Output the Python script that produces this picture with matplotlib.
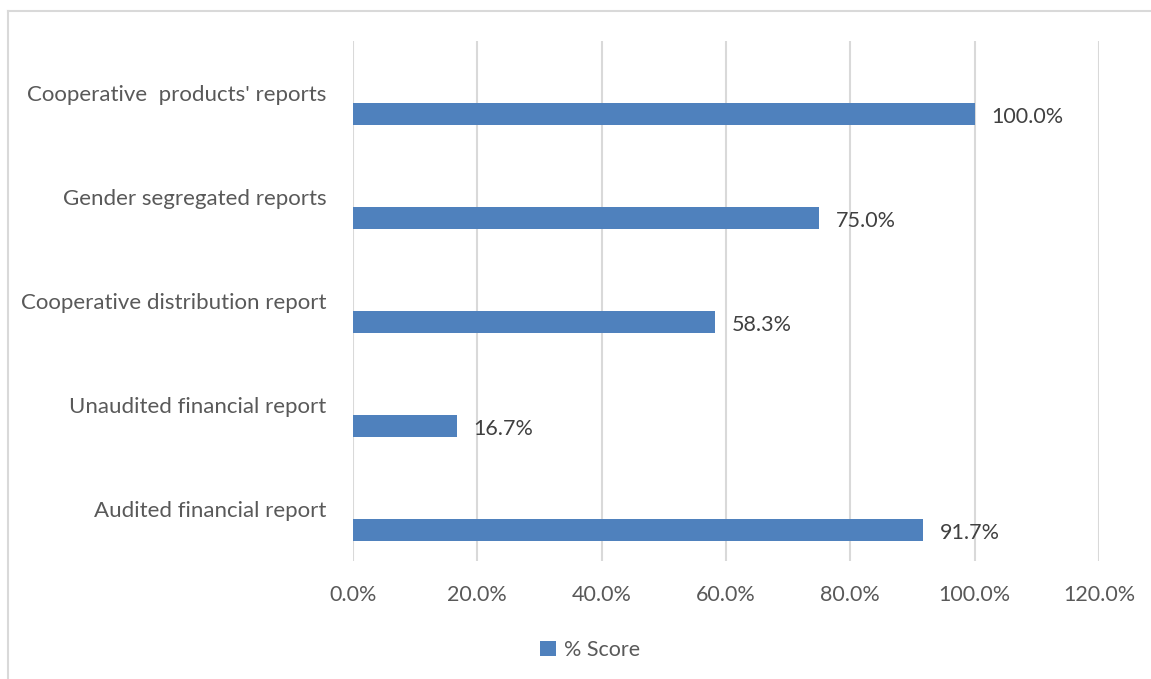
import matplotlib.pyplot as plt
from matplotlib.lines import Line2D
from matplotlib.ticker import FuncFormatter, MultipleLocator

categories = ["Audited financial report", "Unaudited financial report",
              "Cooperative distribution report", "Gender segregated reports",
              "Cooperative  products' reports"]
scores = [0.917, 0.167, 0.583, 0.75, 1.0]
series_name = "% Score"

W, H = 1151, 679
fig = plt.figure(figsize=(W / 100, H / 100), dpi=100)
plt.rcParams['font.family'] = ['Lato', 'DejaVu Sans']

# plot area in pixel terms
left, right, top, bottom = 353, 1099, 41, 561
ax = fig.add_axes([left / W, 1 - bottom / H, (right - left) / W, (bottom - top) / H])

bar_color = "#4F81BD"
txt = "#595959"
fs = 15.5

ypos = list(range(len(categories)))
# bar sits in the lower half of each category band
bars = ax.barh([y - 0.2 for y in ypos], scores, height=0.21, color=bar_color)

for y, v in zip(ypos, scores):
    ax.annotate(f"{v * 100:.1f}%", (v, y - 0.2), xytext=(12, -2.5), textcoords="offset points",
                va="center", ha="left", fontsize=fs, color="#404040")

ax.set_xlim(0, 1.2)
ax.set_ylim(-0.5, len(categories) - 0.5)
ax.xaxis.set_major_locator(MultipleLocator(0.2))
ax.xaxis.set_major_formatter(FuncFormatter(lambda v, p: f"{v * 100:.1f}%"))
ax.set_yticks(ypos)
ax.set_yticklabels(categories)
ax.tick_params(axis="both", length=0, labelsize=fs, labelcolor=txt)
ax.tick_params(axis="x", pad=17)
ax.tick_params(axis="y", pad=19, labelsize=16)
ax.grid(axis="x", color="#D9D9D9", linewidth=1.5)
ax.set_axisbelow(True)
for s in ax.spines.values():
    s.set_visible(False)

fig.legend([bars], [series_name], loc="center", bbox_to_anchor=(590 / W, 1 - 650 / H),
           frameon=False, fontsize=fs, handlelength=0.75, handleheight=0.75,
           handletextpad=0.4, labelcolor=txt)

# chart border, top and left edges
fig.add_artist(Line2D([8 / W, 8 / W], [0, 1 - 11 / H], color="#D9D9D9", linewidth=1.5))
fig.add_artist(Line2D([8 / W, 1], [1 - 11 / H, 1 - 11 / H], color="#D9D9D9", linewidth=1.5))

fig.savefig("out.png", dpi=100)
